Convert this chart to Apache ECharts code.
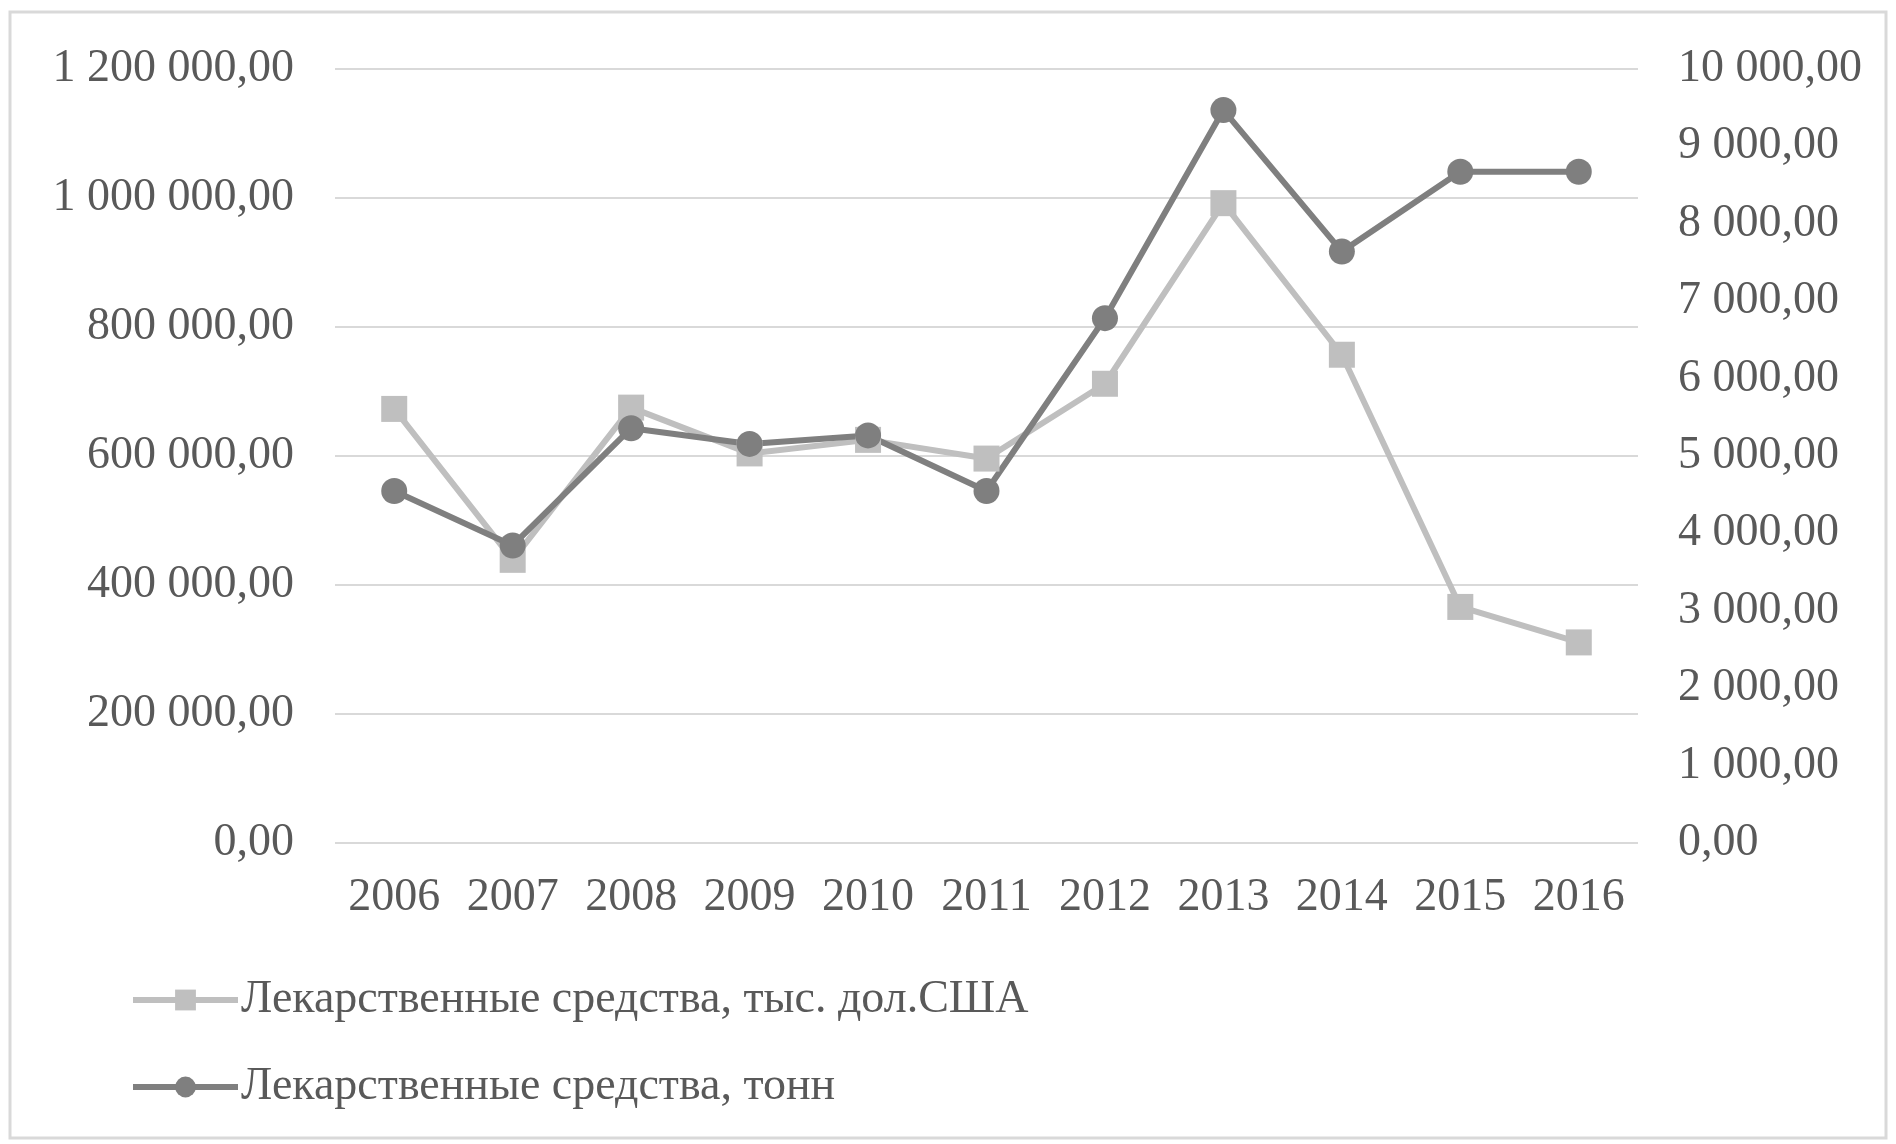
<!DOCTYPE html>
<html>
<head>
<meta charset="utf-8">
<script src="https://cdn.jsdelivr.net/npm/echarts@6/dist/echarts.min.js"></script>
<style>
  html, body { margin: 0; padding: 0; background: #fff; }
  #main { width: 1896px; height: 1144px; }
</style>
</head>
<body>
<div id="main"></div>
<script>
// годы
const years = ["2006", "2007", "2008", "2009", "2010", "2011", "2012", "2013", "2014", "2015", "2016"];
// тыс. дол. США (левая ось)
const usdValues = [673000, 439000, 675000, 604000, 625000, 596000, 712000, 992000, 757000, 366000, 311000];
// тонн (правая ось)
const tonValues = [4547, 3844, 5359, 5156, 5266, 4547, 6781, 9469, 7641, 8672, 8672];
const seriesNames = ["Лекарственные средства, тыс. дол.США", "Лекарственные средства, тонн"];

const txt = "#595959";
const fontFam = "Liberation Serif";

// 1200000 -> "1 200 000,00"
function fmt(v) {
  const parts = Math.round(v).toString().replace(/\B(?=(\d{3})+(?!\d))/g, " ");
  return parts + ",00";
}

const chart = echarts.init(document.getElementById("main"));
chart.setOption({
  animation: false,
  textStyle: { fontFamily: fontFam },
  grid: { left: 335, right: 258, top: 69, bottom: 301 },
  graphic: [{
    type: "rect",
    shape: { x: 10, y: 12, width: 1876, height: 1126 },
    style: { fill: "none", stroke: "#d9d9d9", lineWidth: 3 },
    silent: true
  }],
  legend: {
    orient: "vertical",
    left: 125,
    top: 972,
    itemWidth: 105,
    itemHeight: 26,
    itemGap: 41,
    textStyle: { color: txt, fontSize: 46, fontFamily: fontFam, padding: [0, 0, 0, -2] },
    data: [
      { name: seriesNames[0], lineStyle: { width: 6 } },
      { name: seriesNames[1], lineStyle: { width: 6 } }
    ]
  },
  xAxis: {
    type: "category",
    data: years,
    boundaryGap: true,
    axisLine: { show: false },
    axisTick: { show: false },
    axisLabel: { color: txt, fontSize: 46, margin: 32, interval: 0, fontFamily: fontFam }
  },
  yAxis: [
    {
      type: "value",
      min: 0, max: 1200000, interval: 200000,
      axisLine: { show: false },
      axisTick: { show: false },
      splitLine: { lineStyle: { color: "#d9d9d9", width: 2 } },
      axisLabel: { color: txt, fontSize: 46, margin: 41, fontFamily: fontFam, formatter: fmt }
    },
    {
      type: "value",
      min: 0, max: 10000, interval: 1000,
      axisLine: { show: false },
      axisTick: { show: false },
      splitLine: { show: false },
      axisLabel: { color: txt, fontSize: 46, margin: 40, fontFamily: fontFam, formatter: fmt }
    }
  ],
  series: [
    {
      name: seriesNames[0],
      type: "line",
      yAxisIndex: 0,
      data: usdValues,
      symbol: "rect",
      symbolSize: 26,
      lineStyle: { color: "#bfbfbf", width: 6 },
      itemStyle: { color: "#bfbfbf" }
    },
    {
      name: seriesNames[1],
      type: "line",
      yAxisIndex: 1,
      data: tonValues,
      symbol: "circle",
      symbolSize: 26,
      lineStyle: { color: "#7f7f7f", width: 6 },
      itemStyle: { color: "#7f7f7f" }
    }
  ]
});
</script>
</body>
</html>
